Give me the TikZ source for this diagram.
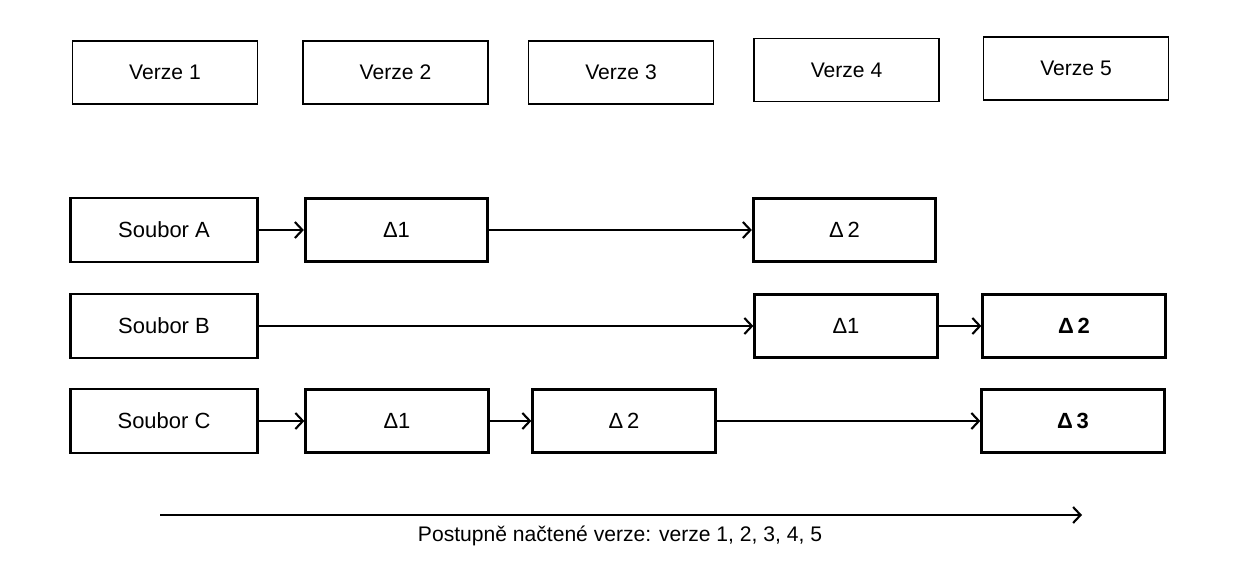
\documentclass[tikz,border=0pt]{standalone}
\usepackage{fontspec}
\setmainfont{Liberation Sans}
\usepackage{tikz}
\usetikzlibrary{positioning, arrows.meta}
\tikzstyle{verze} = [font=\fontsize{12}{14}\selectfont, rectangle, minimum width=3.7cm, minimum height=1.26cm, text centered, draw=black, line width=1pt]
\tikzstyle{soubor} = [font=\fontsize{12.5}{14}\selectfont, rectangle, minimum width=3.75cm, minimum height=1.28cm, text centered, draw=black, line width=1.6pt]
\tikzstyle{delta} = [font=\fontsize{12.5}{14}\selectfont, rectangle, minimum width=3.65cm, minimum height=1.26cm, text centered, draw=black, line width=1.6pt]
\tikzstyle{arrow} = [line width=1.2pt,-{Straight Barb[length=1.5mm,width=3.2mm]}]

\begin{document}
\begin{tikzpicture}
  \useasboundingbox (0,0) rectangle (25,-11.6);
  % versions
  \node (verze1) [verze] at (3.30,-1.45) {Verze 1};
  \node (verze2) [verze, right of = verze1, xshift=3.61cm]{Verze 2};
  \node (verze3) [verze, right of = verze2, xshift=3.51cm]{Verze 3};
  \node (verze4) [verze, right of = verze3, xshift=3.51cm, yshift=0.05cm]{Verze 4};
  \node (verze5) [verze, right of = verze4, xshift=3.59cm, yshift=0.03cm]{Verze 5};
  % files
  \node (souborA) [soubor] at (3.28,-4.60) {Soubor A};
  \node (A1)[delta, right of = souborA, xshift=3.65cm]{Δ1};
  \node (A2)[delta, right of = A1, xshift=7.96cm]{Δ\,2};
  \node (souborB) [soubor, below of = souborA, yshift=-0.92cm]{Soubor B};
  \node (B1)[delta, right of = souborB, xshift=12.64cm]{Δ1};
  \node (B2)[delta, right of = B1, xshift=3.56cm]{\bfseries Δ\,2};
  \node (souborC) [soubor, below of = souborB, yshift=-0.90cm]{Soubor C};
  \node (C1)[delta, right of = souborC, xshift=3.66cm]{Δ1};
  \node (C2)[delta, right of = C1, xshift=3.54cm]{Δ\,2};
  \node (C3)[delta, right of = C2, xshift=7.98cm]{\bfseries Δ\,3};
  \draw[arrow](souborA) -- (A1);
  \draw[arrow](A1) -- (A2);
  \draw[arrow](souborB) -- (B1);
  \draw[arrow](B1) -- (B2);
  \draw[arrow](souborC) -- (C1);
  \draw[arrow](C1) -- (C2);
  \draw[arrow](C2) -- (C3);
  % time line
  \coordinate (start) at (3.2,-10.30);
  \coordinate (end) at (21.64,-10.30);
  \draw[arrow](start) -- (end);
  \node (popis) [font=\fontsize{12}{14}\selectfont] at (12.4,-10.72) {Postupně načtené verze: verze 1, 2, 3, 4, 5};
\end{tikzpicture}
\end{document}
